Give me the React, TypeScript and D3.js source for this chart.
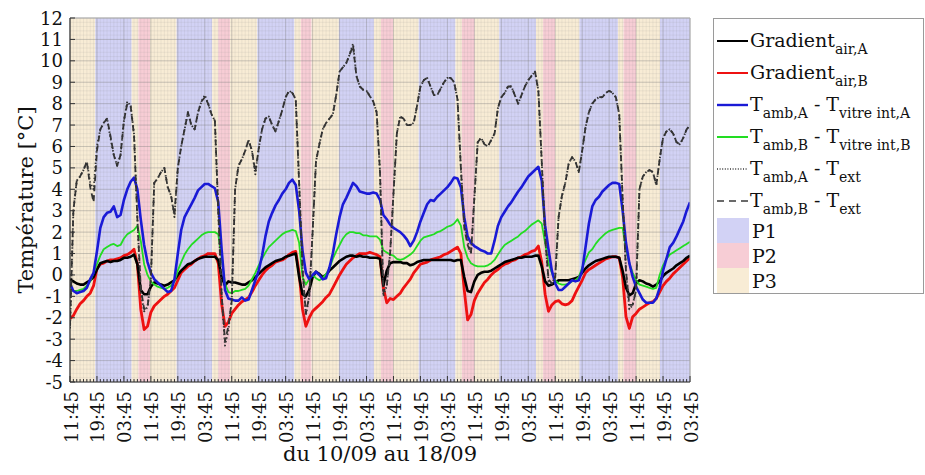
import React from 'react';
import * as d3 from 'd3';

// hourly samples, hour 0 = 10/09 11:45
const hours = d3.range(0, 185);

const gradientAirA = [
  -0.2,-0.3,-0.4,-0.45,-0.45,-0.35,-0.25,-0.1,0.25,0.55,0.6,0.65,0.6,0.65,0.65,0.7,0.8,0.8,0.85,0.95,0.5,-0.7,-0.9,-0.9,
  -0.55,-0.35,-0.4,-0.45,-0.5,-0.45,-0.35,-0.25,0.0,0.2,0.35,0.5,0.55,0.65,0.75,0.8,0.85,0.85,0.85,0.85,0.7,-0.1,-0.5,-0.3,
  -0.35,-0.35,-0.4,-0.45,-0.45,-0.35,-0.25,-0.1,0.05,0.2,0.35,0.45,0.55,0.65,0.7,0.75,0.85,0.9,0.95,1.0,-0.1,-0.9,-1.0,-0.7,
  -0.1,0.15,0.05,-0.1,0.0,0.2,0.35,0.5,0.65,0.75,0.85,0.9,0.9,0.85,0.9,0.85,0.85,0.8,0.8,0.8,0.75,-0.5,0.2,0.55,
  0.6,0.6,0.6,0.55,0.55,0.45,0.5,0.6,0.65,0.7,0.7,0.7,0.7,0.7,0.7,0.7,0.7,0.7,0.65,0.7,0.7,-0.1,-0.75,-0.8,
  -0.3,0.0,0.1,0.15,0.15,0.2,0.3,0.4,0.5,0.6,0.65,0.7,0.75,0.8,0.8,0.85,0.85,0.85,0.9,0.9,0.4,-0.3,-0.5,-0.45,
  -0.35,-0.25,-0.25,-0.25,-0.25,-0.2,-0.15,-0.1,0.1,0.3,0.45,0.55,0.65,0.7,0.75,0.8,0.85,0.85,0.85,0.8,0.2,-0.6,-0.95,-0.85,
  -0.4,-0.25,-0.3,-0.4,-0.45,-0.55,-0.45,-0.3,-0.05,0.1,0.2,0.3,0.45,0.55,0.65,0.8,0.9,
];

const gradientAirB = [
  -2.05,-1.9,-1.6,-1.35,-1.2,-1.0,-0.85,-0.5,0.3,0.5,0.55,0.65,0.7,0.7,0.75,0.8,0.9,0.95,1.05,1.2,0.5,-1.6,-2.55,-2.4,
  -1.75,-1.45,-1.3,-1.15,-1.0,-0.9,-0.75,-0.6,-0.25,0.1,0.25,0.4,0.5,0.65,0.75,0.85,0.9,1.0,1.0,1.0,0.55,-1.35,-2.4,-2.2,
  -1.8,-1.6,-1.4,-1.25,-1.15,-1.05,-0.8,-0.5,-0.25,0.0,0.2,0.35,0.45,0.6,0.65,0.7,0.8,0.95,1.05,1.1,0.1,-1.6,-2.4,-2.0,
  -1.7,-1.55,-1.4,-1.25,-1.05,-0.9,-0.6,-0.3,0.0,0.25,0.5,0.65,0.8,0.9,1.0,1.0,1.0,1.05,1.0,0.95,0.85,-0.6,-1.3,-1.1,
  -1.15,-1.0,-0.85,-0.6,-0.4,-0.2,0.1,0.3,0.5,0.55,0.6,0.7,0.75,0.8,0.85,0.95,1.0,1.1,1.2,1.3,1.0,-0.7,-2.1,-1.85,
  -1.2,-0.85,-0.6,-0.35,-0.2,0.0,0.15,0.25,0.4,0.5,0.55,0.65,0.7,0.8,0.85,0.95,1.0,1.1,1.15,1.35,0.6,-0.9,-1.7,-1.4,
  -1.25,-1.2,-1.35,-1.4,-1.35,-1.2,-0.85,-0.55,-0.25,0.1,0.25,0.35,0.45,0.55,0.65,0.75,0.8,0.85,0.85,0.8,-0.1,-1.95,-2.5,-1.95,
  -1.8,-1.6,-1.5,-1.4,-1.3,-1.25,-1.1,-0.8,-0.5,-0.3,-0.15,0.05,0.2,0.35,0.5,0.65,0.8,
];

const tAmbAVitreA = [
  -0.4,-0.75,-0.85,-0.8,-0.75,-0.6,-0.2,0.1,1.1,2.2,2.7,2.9,2.95,3.2,2.7,2.8,3.5,4.0,4.35,4.55,4.0,2.6,1.4,0.6,
  0.1,-0.2,-0.35,-0.5,-0.65,-0.8,-0.75,-0.2,1.0,2.1,2.7,3.0,3.3,3.6,3.95,4.1,4.25,4.25,4.15,4.05,3.4,1.2,-0.7,-1.1,
  -1.15,-1.2,-1.2,-1.05,-1.2,-1.15,-0.7,-0.25,0.2,0.9,1.8,2.5,2.9,3.25,3.5,3.8,4.0,4.3,4.45,4.2,3.0,1.15,0.1,-0.2,
  0.0,0.15,0.0,-0.2,-0.15,0.35,1.0,1.9,2.7,3.3,3.6,3.95,4.3,4.15,3.9,3.85,3.8,3.8,3.85,3.8,3.5,2.8,2.6,2.35,
  2.2,2.1,2.0,1.85,1.65,1.35,1.6,2.0,2.5,2.9,3.3,3.5,3.45,3.65,3.8,3.95,4.1,4.3,4.55,4.5,4.1,2.7,1.8,1.5,
  1.35,1.25,1.15,1.1,1.0,1.0,1.6,2.3,2.7,2.95,3.2,3.4,3.65,3.9,4.1,4.35,4.6,4.75,4.9,5.05,4.4,2.3,1.2,0.2,
  -0.4,-0.7,-0.7,-0.55,-0.4,-0.25,-0.3,-0.25,0.2,1.3,2.4,3.2,3.5,3.65,3.9,4.05,4.2,4.3,4.3,4.25,3.0,1.5,0.55,-0.1,
  -0.55,-0.85,-1.15,-1.3,-1.3,-1.3,-1.1,-0.6,0.2,0.75,1.3,1.5,1.8,2.15,2.5,3.0,3.4,
];

const tAmbBVitreB = [
  -0.55,-0.75,-0.75,-0.7,-0.65,-0.5,-0.3,0.1,0.5,0.9,1.2,1.3,1.4,1.45,1.35,1.4,1.7,1.9,2.0,2.1,2.3,1.6,0.5,0.0,
  -0.3,-0.45,-0.55,-0.6,-0.65,-0.6,-0.5,-0.3,0.2,0.6,0.95,1.2,1.4,1.55,1.7,1.85,1.95,2.0,2.0,2.0,1.9,0.8,-0.4,-0.8,
  -0.85,-0.75,-0.75,-0.7,-0.65,-0.5,-0.2,0.1,0.45,0.75,1.05,1.3,1.45,1.6,1.75,1.9,2.0,2.05,2.1,2.05,1.5,-0.1,-0.45,-0.2,
  0.0,-0.15,-0.25,-0.15,0.05,0.3,0.75,1.1,1.4,1.7,1.9,2.0,2.0,1.95,1.95,1.85,1.85,1.8,1.8,1.8,1.65,1.15,1.05,0.95,
  0.9,0.75,0.7,0.75,0.85,0.95,1.1,1.35,1.6,1.75,1.8,1.85,1.9,2.0,2.05,2.15,2.25,2.3,2.4,2.6,2.3,1.3,0.8,0.55,
  0.45,0.4,0.4,0.4,0.45,0.55,0.7,0.95,1.2,1.4,1.5,1.6,1.7,1.8,1.95,2.05,2.2,2.35,2.45,2.55,2.4,1.5,0.55,0.1,
  -0.25,-0.4,-0.45,-0.45,-0.4,-0.3,-0.25,-0.1,0.35,0.7,1.05,1.2,1.45,1.65,1.8,1.95,2.05,2.1,2.15,2.2,2.2,1.2,0.55,0.1,
  -0.25,-0.45,-0.5,-0.55,-0.6,-0.65,-0.6,0.0,0.45,0.75,0.95,1.05,1.15,1.25,1.35,1.45,1.55,
];

const tAmbAExt = [
  -2.5,3.0,4.4,4.6,4.9,5.3,4.3,4.0,6.0,6.8,7.1,7.3,6.4,5.6,5.1,5.6,7.2,8.1,7.9,6.6,2.6,-0.8,-1.7,-1.5,
  -0.2,4.3,4.5,4.8,5.0,4.1,3.7,2.7,5.0,6.0,6.8,7.6,7.0,6.8,7.6,8.1,8.4,8.0,7.5,7.2,3.0,-0.9,-3.3,-2.6,
  -1.2,4.0,5.1,5.4,5.8,6.3,5.8,4.7,5.9,6.8,7.3,7.4,7.0,6.7,7.2,7.7,8.3,8.6,8.5,8.2,4.3,0.3,-1.9,-1.0,
  2.0,5.3,6.1,6.8,7.1,7.3,7.5,8.4,9.5,9.7,9.9,10.3,10.8,9.3,8.8,8.65,8.6,8.35,8.1,7.6,4.8,-1.0,-0.5,1.0,
  3.8,6.6,7.4,7.3,7.0,7.0,7.1,7.9,8.8,9.1,9.2,8.8,8.4,8.4,8.7,9.0,9.2,9.2,9.0,8.2,5.0,2.4,1.6,1.0,
  3.6,6.2,6.4,6.1,6.0,6.3,6.6,7.8,8.3,8.5,8.8,8.8,8.4,8.0,8.4,8.8,9.1,9.3,9.5,8.6,5.3,1.8,-0.3,-0.4,
  -0.1,2.7,3.7,4.3,5.2,5.5,5.3,4.8,5.8,6.9,7.6,8.0,8.2,8.3,8.3,8.5,8.6,8.5,8.3,7.5,3.6,0.2,-1.6,-1.4,
  -0.7,4.0,4.6,4.8,4.9,4.8,4.2,5.4,6.4,6.7,6.8,6.6,6.2,6.1,6.4,6.8,7.0,
];

const tAmbBExt = [
  -2.4,3.0,4.4,4.6,4.9,5.3,4.1,3.4,5.8,6.8,7.1,7.3,6.5,5.6,5.1,5.6,7.2,8.0,7.9,6.5,2.6,-0.6,-1.6,-1.5,
  -0.2,4.3,4.5,4.8,5.0,4.1,3.7,2.8,5.0,6.0,6.8,7.6,7.0,6.8,7.6,8.1,8.3,8.0,7.5,7.2,3.0,-0.9,-3.1,-2.4,
  -1.2,4.0,5.1,5.4,5.8,6.3,5.8,4.8,5.9,6.8,7.3,7.4,7.0,6.7,7.2,7.7,8.3,8.6,8.5,8.2,4.3,0.3,-1.8,-1.0,
  2.0,5.3,6.1,6.8,7.1,7.3,7.5,8.4,9.5,9.7,9.9,10.3,10.7,9.3,8.8,8.65,8.6,8.35,8.1,7.6,4.8,-0.8,-0.5,1.0,
  3.8,6.6,7.4,7.3,7.0,7.0,7.1,7.9,8.8,9.1,9.2,8.8,8.4,8.4,8.7,9.0,9.2,9.2,9.0,8.2,5.0,2.2,1.4,1.0,
  3.6,6.2,6.4,6.1,6.0,6.3,6.6,7.8,8.3,8.5,8.8,8.8,8.4,8.0,8.4,8.8,9.1,9.3,9.5,8.6,5.3,1.8,-0.2,-0.4,
  -0.1,2.7,3.7,4.3,5.2,5.5,5.3,4.8,5.8,6.9,7.6,8.0,8.2,8.3,8.3,8.5,8.6,8.5,8.3,7.5,3.6,0.2,-1.4,-1.4,
  -0.7,4.0,4.6,4.8,4.9,4.8,4.2,5.4,6.4,6.7,6.8,6.6,6.2,6.1,6.4,6.8,7.0,
];

// background periods (hours from start)
const bandTypes = [
  'P3','P1','P3','P2','P3','P1','P3','P2','P3','P1','P3','P2','P3','P1','P3','P2',
  'P3','P1','P3','P2','P3','P1','P3','P2','P3','P1','P3','P2','P3','P1',
];
const bandEdges = [
  0, 7.5, 18.3, 20.3, 23.75, 31.65, 42.2, 44.0, 47.5, 55.6, 66.6, 68.5, 71.7, 79.8, 90.2, 92.3,
  95.9, 103.5, 114.4, 116.3, 120.1, 127.4, 138.3, 140.4, 144.0, 151.2, 162.6, 164.3, 168.0, 175.1, 184,
];

const xTickHours = d3.range(0, 185, 8);
const xTickLabels = [
  '11:45','19:45','03:45','11:45','19:45','03:45','11:45','19:45','03:45','11:45','19:45','03:45',
  '11:45','19:45','03:45','11:45','19:45','03:45','11:45','19:45','03:45','11:45','19:45','03:45',
];
const yTicks = d3.range(-5, 13, 1);

const bandColors: Record<string, string> = { P1: '#d2d2f5', P2: '#f7cdd5', P3: '#f8ecd5' };

type Part = [string, boolean];
const legendLabels: Part[][] = [
  [['Gradient', false], ['air,A', true]],
  [['Gradient', false], ['air,B', true]],
  [['T', false], ['amb,A', true], [' - T', false], ['vitre int,A', true]],
  [['T', false], ['amb,B', true], [' - T', false], ['vitre int,B', true]],
  [['T', false], ['amb,A', true], [' - T', false], ['ext', true]],
  [['T', false], ['amb,B', true], [' - T', false], ['ext', true]],
];
const bandLabels = ['P1', 'P2', 'P3'];

const FONT = "'DejaVu Serif', serif";

export default function App() {
  const L = 70, R = 690, T = 18, B = 382;
  const x = d3.scaleLinear().domain([0, 184]).range([L, R]);
  const y = d3.scaleLinear().domain([-5, 12]).range([B, T]);

  const series = [
    { data: gradientAirB, color: '#ee1111', width: 2.8, dash: undefined as string | undefined },
    { data: gradientAirA, color: '#000000', width: 2.6, dash: undefined },
    { data: tAmbBVitreB, color: '#22dd22', width: 1.8, dash: undefined },
    { data: tAmbAVitreA, color: '#1a1ad6', width: 2.6, dash: undefined },
    { data: tAmbAExt, color: '#333333', width: 1.9, dash: '1.4 2.4' },
    { data: tAmbBExt, color: '#333333', width: 1.8, dash: '6 4' },
  ];
  const legendStyles = [
    { color: '#000000', width: 2, dash: undefined as string | undefined },
    { color: '#ee1111', width: 2, dash: undefined },
    { color: '#1a1ad6', width: 2.4, dash: undefined },
    { color: '#22dd22', width: 2, dash: undefined },
    { color: '#3a3a3a', width: 1.4, dash: '1 1.6' },
    { color: '#3a3a3a', width: 1.6, dash: '7 5' },
  ];

  const line = (vals: number[]) =>
    d3.line<number>().x((_, i) => x(hours[i])).y((v) => y(v))(vals) || '';

  const minorY = d3.range(-5, 12.0001, 0.2);
  const minorX = d3.range(0, 185, 1);

  const legX = 713, legY = 18;
  const rowY = (i: number) => 41 + 32 * i;

  return (
    <svg width={925} height={475} style={{ position: 'absolute', left: 0, top: 0, background: '#fff' }} fontFamily={FONT}>
      <defs>
        <clipPath id="plot"><rect x={L} y={T} width={R - L} height={B - T} /></clipPath>
      </defs>
      {bandTypes.map((t, i) => (
        <rect key={'b' + i} x={x(bandEdges[i])} y={T} width={x(bandEdges[i + 1]) - x(bandEdges[i])} height={B - T} fill={bandColors[t]} />
      ))}
      {minorY.map((v, i) => (
        <line key={'gy' + i} x1={L} x2={R} y1={y(v)} y2={y(v)} stroke="#8a8a8a" strokeOpacity={0.2} strokeWidth={0.6} />
      ))}
      {minorX.map((h, i) => (
        <line key={'gx' + i} x1={x(h)} x2={x(h)} y1={T} y2={B} stroke="#8a8a8a" strokeOpacity={0.2} strokeWidth={0.6} />
      ))}
      {yTicks.map((v) => (
        <line key={'My' + v} x1={L} x2={R} y1={y(v)} y2={y(v)} stroke="#7a7a7a" strokeOpacity={0.38} strokeWidth={0.8} />
      ))}
      {xTickHours.map((h) => (
        <line key={'Mx' + h} x1={x(h)} x2={x(h)} y1={T} y2={B} stroke="#7a7a7a" strokeOpacity={0.38} strokeWidth={0.8} />
      ))}
      <g clipPath="url(#plot)">
        {series.map((s, i) => (
          <path key={'s' + i} d={line(s.data)} fill="none" stroke={s.color} strokeWidth={s.width}
            strokeDasharray={s.dash} strokeLinejoin="round" />
        ))}
      </g>
      <line x1={L} x2={R} y1={T} y2={T} stroke="#b0b0b0" strokeWidth={1} />
      <line x1={R} x2={R} y1={T} y2={B} stroke="#b0b0b0" strokeWidth={1} />
      <line x1={L} x2={L} y1={T} y2={B} stroke="#333" strokeWidth={1.2} />
      <line x1={L} x2={R} y1={B} y2={B} stroke="#333" strokeWidth={1.2} />
      {yTicks.map((v) => (
        <g key={'yt' + v}>
          <line x1={L} x2={L + 5} y1={y(v)} y2={y(v)} stroke="#333" strokeWidth={1} />
          <text x={L - 7} y={y(v) + 6.5} textAnchor="end" fontSize={18} fill="#111">{v}</text>
        </g>
      ))}
      {minorX.map((h) => (
        <line key={'xm' + h} x1={x(h)} x2={x(h)} y1={B} y2={B - (h % 8 === 0 ? 6 : 3)} stroke="#333" strokeWidth={1} />
      ))}
      {xTickHours.map((h, i) => (
        <text key={'xl' + h} transform={`translate(${x(h) + 7.5},${B + 9}) rotate(-90)`} textAnchor="end" fontSize={18} fill="#111">
          {xTickLabels[i]}
        </text>
      ))}
      <text x={380} y={461} textAnchor="middle" fontSize={21} fill="#111">du 10/09 au 18/09</text>
      <text transform="translate(33,200) rotate(-90)" textAnchor="middle" fontSize={21} fill="#111">Température [°C]</text>
      <rect x={legX + 0.5} y={legY + 0.5} width={210} height={275} fill="#fff" stroke="#9a9a9a" strokeWidth={1} />
      {legendLabels.map((parts, i) => {
        const st = legendStyles[i];
        const yy = rowY(i);
        let sub = false;
        return (
          <g key={'lg' + i}>
            <line x1={717} x2={748} y1={yy} y2={yy} stroke={st.color} strokeWidth={st.width} strokeDasharray={st.dash} />
            <text x={750} y={yy + 6} fontSize={19} fill="#111">
              {parts.map(([txt, isSub], j) => {
                const dy = isSub && !sub ? 7 : !isSub && sub ? -7 : 0;
                sub = isSub;
                return (
                  <tspan key={j} dy={dy} fontSize={isSub ? 14 : 19} style={{ whiteSpace: 'pre' }}>{txt}</tspan>
                );
              })}
            </text>
          </g>
        );
      })}
      {bandLabels.map((p, i) => (
        <g key={'pl' + p}>
          <rect x={717} y={218 + 25 * i} width={32} height={25} fill={bandColors[p]} />
          <text x={752} y={238 + 25 * i} fontSize={19} fill="#111">{p}</text>
        </g>
      ))}
    </svg>
  );
}
